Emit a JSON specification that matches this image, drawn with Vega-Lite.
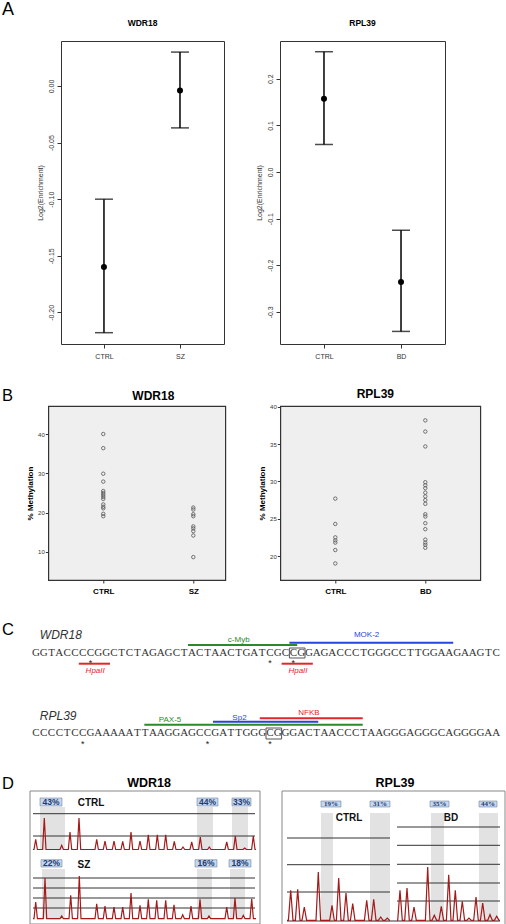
{
"$schema":"https://vega.github.io/schema/vega-lite/v6.json",
"background":"white",
"padding":{"left":2,"top":0,"right":0,"bottom":0},
"autosize":{"type":"pad"},
"spacing":26,
"config":{"font":"Liberation Sans","view":{"stroke":null},"title":{"color":"#000","font":"Liberation Sans"},"axis":{"domain":false,"grid":false,"labelColor":"#333","tickColor":"#333","titleColor":"#333"}},
"datasets":{
"none":[{"k":1}],
"enrW":[{"group":"CTRL","mean":-0.16,"lo":-0.218,"hi":-0.1},{"group":"SZ","mean":-0.004,"lo":-0.037,"hi":0.03}],
"enrR":[{"group":"CTRL","mean":0.157,"lo":0.059,"hi":0.258},{"group":"BD","mean":-0.236,"lo":-0.342,"hi":-0.125}],
"methW":[{"g":"CTRL","m":40},{"g":"CTRL","m":36.4},{"g":"CTRL","m":29.9},{"g":"CTRL","m":27.9},{"g":"CTRL","m":25.5},{"g":"CTRL","m":25.0},{"g":"CTRL","m":24.5},{"g":"CTRL","m":24.0},{"g":"CTRL","m":23.5},{"g":"CTRL","m":22.1},{"g":"CTRL","m":21.5},{"g":"CTRL","m":21.1},{"g":"CTRL","m":19.7},{"g":"CTRL","m":19.1},
{"g":"SZ","m":21.3},{"g":"SZ","m":20.8},{"g":"SZ","m":19.6},{"g":"SZ","m":19.1},{"g":"SZ","m":16.5},{"g":"SZ","m":16.0},{"g":"SZ","m":15.3},{"g":"SZ","m":14.2},{"g":"SZ","m":8.7}],
"methR":[{"g":"CTRL","m":27.7},{"g":"CTRL","m":24.3},{"g":"CTRL","m":22.5},{"g":"CTRL","m":22.1},{"g":"CTRL","m":21.8},{"g":"CTRL","m":20.8},{"g":"CTRL","m":19.0},
{"g":"BD","m":38.2},{"g":"BD","m":36.7},{"g":"BD","m":34.7},{"g":"BD","m":29.9},{"g":"BD","m":29.5},{"g":"BD","m":29.1},{"g":"BD","m":28.5},{"g":"BD","m":28.0},{"g":"BD","m":27.5},{"g":"BD","m":27.0},{"g":"BD","m":25.6},{"g":"BD","m":25.3},{"g":"BD","m":24.4},{"g":"BD","m":23.6},{"g":"BD","m":22.2},{"g":"BD","m":21.8},{"g":"BD","m":21.5},{"g":"BD","m":21.1}],
"bases":[
{"g":"W","i":0,"b":"G"},{"g":"W","i":1,"b":"G"},{"g":"W","i":2,"b":"T"},{"g":"W","i":3,"b":"A"},{"g":"W","i":4,"b":"C"},{"g":"W","i":5,"b":"C"},{"g":"W","i":6,"b":"C"},{"g":"W","i":7,"b":"C"},{"g":"W","i":8,"b":"G"},{"g":"W","i":9,"b":"G"},
{"g":"W","i":10,"b":"C"},{"g":"W","i":11,"b":"T"},{"g":"W","i":12,"b":"C"},{"g":"W","i":13,"b":"T"},{"g":"W","i":14,"b":"A"},{"g":"W","i":15,"b":"G"},{"g":"W","i":16,"b":"A"},{"g":"W","i":17,"b":"G"},{"g":"W","i":18,"b":"C"},{"g":"W","i":19,"b":"T"},
{"g":"W","i":20,"b":"A"},{"g":"W","i":21,"b":"C"},{"g":"W","i":22,"b":"T"},{"g":"W","i":23,"b":"A"},{"g":"W","i":24,"b":"A"},{"g":"W","i":25,"b":"C"},{"g":"W","i":26,"b":"T"},{"g":"W","i":27,"b":"G"},{"g":"W","i":28,"b":"A"},{"g":"W","i":29,"b":"T"},
{"g":"W","i":30,"b":"C"},{"g":"W","i":31,"b":"G"},{"g":"W","i":32,"b":"C"},{"g":"W","i":33,"b":"C"},{"g":"W","i":34,"b":"G"},{"g":"W","i":35,"b":"G"},{"g":"W","i":36,"b":"A"},{"g":"W","i":37,"b":"G"},{"g":"W","i":38,"b":"A"},{"g":"W","i":39,"b":"C"},
{"g":"W","i":40,"b":"C"},{"g":"W","i":41,"b":"C"},{"g":"W","i":42,"b":"T"},{"g":"W","i":43,"b":"G"},{"g":"W","i":44,"b":"G"},{"g":"W","i":45,"b":"G"},{"g":"W","i":46,"b":"C"},{"g":"W","i":47,"b":"C"},{"g":"W","i":48,"b":"T"},{"g":"W","i":49,"b":"T"},
{"g":"W","i":50,"b":"G"},{"g":"W","i":51,"b":"G"},{"g":"W","i":52,"b":"A"},{"g":"W","i":53,"b":"A"},{"g":"W","i":54,"b":"G"},{"g":"W","i":55,"b":"A"},{"g":"W","i":56,"b":"A"},{"g":"W","i":57,"b":"G"},{"g":"W","i":58,"b":"T"},{"g":"W","i":59,"b":"C"},
{"g":"R","i":0,"b":"C"},{"g":"R","i":1,"b":"C"},{"g":"R","i":2,"b":"C"},{"g":"R","i":3,"b":"C"},{"g":"R","i":4,"b":"T"},{"g":"R","i":5,"b":"C"},{"g":"R","i":6,"b":"C"},{"g":"R","i":7,"b":"G"},{"g":"R","i":8,"b":"A"},{"g":"R","i":9,"b":"A"},
{"g":"R","i":10,"b":"A"},{"g":"R","i":11,"b":"A"},{"g":"R","i":12,"b":"A"},{"g":"R","i":13,"b":"T"},{"g":"R","i":14,"b":"T"},{"g":"R","i":15,"b":"A"},{"g":"R","i":16,"b":"A"},{"g":"R","i":17,"b":"G"},{"g":"R","i":18,"b":"G"},{"g":"R","i":19,"b":"A"},
{"g":"R","i":20,"b":"G"},{"g":"R","i":21,"b":"C"},{"g":"R","i":22,"b":"C"},{"g":"R","i":23,"b":"G"},{"g":"R","i":24,"b":"A"},{"g":"R","i":25,"b":"T"},{"g":"R","i":26,"b":"T"},{"g":"R","i":27,"b":"G"},{"g":"R","i":28,"b":"G"},{"g":"R","i":29,"b":"G"},
{"g":"R","i":30,"b":"C"},{"g":"R","i":31,"b":"G"},{"g":"R","i":32,"b":"G"},{"g":"R","i":33,"b":"G"},{"g":"R","i":34,"b":"A"},{"g":"R","i":35,"b":"C"},{"g":"R","i":36,"b":"T"},{"g":"R","i":37,"b":"A"},{"g":"R","i":38,"b":"A"},{"g":"R","i":39,"b":"C"},
{"g":"R","i":40,"b":"C"},{"g":"R","i":41,"b":"C"},{"g":"R","i":42,"b":"T"},{"g":"R","i":43,"b":"A"},{"g":"R","i":44,"b":"A"},{"g":"R","i":45,"b":"G"},{"g":"R","i":46,"b":"G"},{"g":"R","i":47,"b":"G"},{"g":"R","i":48,"b":"A"},{"g":"R","i":49,"b":"G"},
{"g":"R","i":50,"b":"G"},{"g":"R","i":51,"b":"G"},{"g":"R","i":52,"b":"C"},{"g":"R","i":53,"b":"A"},{"g":"R","i":54,"b":"G"},{"g":"R","i":55,"b":"G"},{"g":"R","i":56,"b":"G"},{"g":"R","i":57,"b":"G"},{"g":"R","i":58,"b":"A"},{"g":"R","i":59,"b":"A"}],
"tfLines":[{"tf":"c-Myb","s":20,"e":34,"y":645},{"tf":"MOK-2","s":33,"e":54,"y":642.7},{"tf":"HpaII","s":6,"e":10,"y":663.7},{"tf":"HpaII","s":32,"e":36,"y":663.7},{"tf":"PAX-5","s":14.4,"e":42.4,"y":724.7},{"tf":"Sp2","s":23.2,"e":36.7,"y":721.7},{"tf":"NFKB","s":29.2,"e":42.4,"y":718.3}],
"tfLabels":[{"tf":"c-Myb","x":26.5,"y":640},{"tf":"MOK-2","x":42.9,"y":635},{"tf":"HpaII","x":8.1,"y":671},{"tf":"HpaII","x":34.1,"y":671},{"tf":"PAX-5","x":17.7,"y":719.5},{"tf":"Sp2","x":26.6,"y":718.3},{"tf":"NFKB","x":35.5,"y":712.5}],
"genes":[{"gene":"WDR18","x":1,"y":635},{"gene":"RPL39","x":1,"y":716}],
"cgBox":[{"s":33,"e":35,"y":648,"y2":658},{"s":30,"e":32,"y":728,"y2":739}],
"stars":[{"i":7,"y":665.7},{"i":30,"y":665.7},{"i":33,"y":665.7},{"i":6,"y":746.7},{"i":22,"y":746.7},{"i":30,"y":746.7}],
"shade":[{"x":40,"x2":65,"y":805,"y2":848},{"x":197,"x2":213,"y":805,"y2":848},{"x":232,"x2":248,"y":805,"y2":848},{"x":42,"x2":65,"y":867,"y2":917},{"x":197,"x2":212,"y":867,"y2":917},{"x":230,"x2":245,"y":867,"y2":917},{"x":321,"x2":333,"y":811,"y2":920},{"x":370,"x2":390,"y":811,"y2":920},{"x":431,"x2":444,"y":811,"y2":920},{"x":479,"x2":498,"y":811,"y2":920}],
"grid":[{"x":33,"x2":255,"y":811.7},{"x":33,"x2":255,"y":834},{"x":33,"x2":255,"y":876},{"x":33,"x2":255,"y":886},{"x":33,"x2":255,"y":896},{"x":33,"x2":255,"y":906},{"x":287,"x2":390,"y":836},{"x":287,"x2":390,"y":862.7},{"x":287,"x2":390,"y":890},{"x":397,"x2":500,"y":825},{"x":397,"x2":500,"y":843.3},{"x":397,"x2":500,"y":862.3},{"x":397,"x2":500,"y":881},{"x":397,"x2":500,"y":899},{"x":287,"x2":500,"y":919}],
"pct":[{"gene":"W","label":"43%","x":40,"x2":62,"y":796,"y2":804,"xm":51,"ym":800},{"gene":"W","label":"44%","x":197,"x2":218,"y":796,"y2":804,"xm":207.5,"ym":800},{"gene":"W","label":"33%","x":232,"x2":251,"y":796,"y2":804,"xm":241.5,"ym":800},{"gene":"W","label":"22%","x":41,"x2":62,"y":857.7,"y2":865,"xm":51.5,"ym":861.3},{"gene":"W","label":"16%","x":195,"x2":217,"y":857.7,"y2":865,"xm":206,"ym":861.3},{"gene":"W","label":"18%","x":229,"x2":251,"y":857.7,"y2":865,"xm":240,"ym":861.3},{"gene":"R","label":"19%","x":321,"x2":341,"y":799,"y2":805,"xm":331,"ym":802},{"gene":"R","label":"31%","x":370,"x2":390,"y":799,"y2":805,"xm":380,"ym":802},{"gene":"R","label":"35%","x":430,"x2":449,"y":799,"y2":805,"xm":439.5,"ym":802},{"gene":"R","label":"44%","x":479,"x2":497,"y":799,"y2":805,"xm":488,"ym":802}],
"subLabels":[{"label":"CTRL","x":91,"y":800.5},{"label":"SZ","x":84,"y":862.5},{"label":"CTRL","x":349,"y":816},{"label":"BD","x":451,"y":816}],
"boxes":[{"x":30,"x2":260,"y":789,"y2":922},{"x":282,"x2":505,"y":789,"y2":923}],
"titlesD":[{"label":"WDR18","x":149,"y":781},{"label":"RPL39","x":395,"y":781}],
"traces":[
{"t":"WC","x":33,"y":847.5},{"t":"WC","x":34,"y":847.5},{"t":"WC","x":35.7,"y":837.3},{"t":"WC","x":37.4,"y":847.5},{"t":"WC","x":42.6,"y":847.5},{"t":"WC","x":44.3,"y":816},{"t":"WC","x":46,"y":847.5},{"t":"WC","x":60,"y":847.5},{"t":"WC","x":61.7,"y":843.3},{"t":"WC","x":63.4,"y":847.5},{"t":"WC","x":68.3,"y":847.5},{"t":"WC","x":70,"y":830},{"t":"WC","x":71.7,"y":847.5},{"t":"WC","x":77.3,"y":847.5},{"t":"WC","x":79,"y":816},{"t":"WC","x":80.7,"y":847.5},{"t":"WC","x":95,"y":847.5},{"t":"WC","x":96.7,"y":837.3},{"t":"WC","x":98.4,"y":847.5},{"t":"WC","x":103.3,"y":847.5},{"t":"WC","x":105,"y":839},{"t":"WC","x":106.7,"y":847.5},{"t":"WC","x":112.3,"y":847.5},{"t":"WC","x":114,"y":839},{"t":"WC","x":115.7,"y":847.5},{"t":"WC","x":121,"y":847.5},{"t":"WC","x":122.7,"y":839.3},{"t":"WC","x":124.4,"y":847.5},{"t":"WC","x":129.3,"y":847.5},{"t":"WC","x":131,"y":830},{"t":"WC","x":132.7,"y":847.5},{"t":"WC","x":138.3,"y":847.5},{"t":"WC","x":140,"y":839},{"t":"WC","x":141.7,"y":847.5},{"t":"WC","x":146.6,"y":847.5},{"t":"WC","x":148.3,"y":832.7},{"t":"WC","x":150,"y":847.5},{"t":"WC","x":155.6,"y":847.5},{"t":"WC","x":157.3,"y":832.7},{"t":"WC","x":159,"y":847.5},{"t":"WC","x":164,"y":847.5},{"t":"WC","x":165.7,"y":832.7},{"t":"WC","x":167.4,"y":847.5},{"t":"WC","x":172.6,"y":847.5},{"t":"WC","x":174.3,"y":839.3},{"t":"WC","x":176,"y":847.5},{"t":"WC","x":181.3,"y":847.5},{"t":"WC","x":183,"y":845},{"t":"WC","x":184.7,"y":847.5},{"t":"WC","x":190,"y":847.5},{"t":"WC","x":191.7,"y":840},{"t":"WC","x":193.4,"y":847.5},{"t":"WC","x":198.6,"y":847.5},{"t":"WC","x":200.3,"y":835},{"t":"WC","x":202,"y":847.5},{"t":"WC","x":207.6,"y":847.5},{"t":"WC","x":209.3,"y":845},{"t":"WC","x":211,"y":847.5},{"t":"WC","x":225,"y":847.5},{"t":"WC","x":226.7,"y":840},{"t":"WC","x":228.4,"y":847.5},{"t":"WC","x":233.6,"y":847.5},{"t":"WC","x":235.3,"y":834},{"t":"WC","x":237,"y":847.5},{"t":"WC","x":243,"y":847.5},{"t":"WC","x":244.7,"y":846},{"t":"WC","x":246.4,"y":847.5},{"t":"WC","x":251.6,"y":847.5},{"t":"WC","x":253.3,"y":834},{"t":"WC","x":255,"y":847.5},{"t":"WC","x":256,"y":847.5},
{"t":"WS","x":33,"y":916.7},{"t":"WS","x":34,"y":916.7},{"t":"WS","x":35.7,"y":900},{"t":"WS","x":37.4,"y":916.7},{"t":"WS","x":43.3,"y":916.7},{"t":"WS","x":45,"y":876},{"t":"WS","x":46.7,"y":916.7},{"t":"WS","x":60,"y":916.7},{"t":"WS","x":61.7,"y":914},{"t":"WS","x":63.4,"y":916.7},{"t":"WS","x":69,"y":916.7},{"t":"WS","x":70.7,"y":893.3},{"t":"WS","x":72.4,"y":916.7},{"t":"WS","x":77.6,"y":916.7},{"t":"WS","x":79.3,"y":874},{"t":"WS","x":81,"y":916.7},{"t":"WS","x":95,"y":916.7},{"t":"WS","x":96.7,"y":901.7},{"t":"WS","x":98.4,"y":916.7},{"t":"WS","x":103.3,"y":916.7},{"t":"WS","x":105,"y":904},{"t":"WS","x":106.7,"y":916.7},{"t":"WS","x":112.3,"y":916.7},{"t":"WS","x":114,"y":905},{"t":"WS","x":115.7,"y":916.7},{"t":"WS","x":121,"y":916.7},{"t":"WS","x":122.7,"y":905},{"t":"WS","x":124.4,"y":916.7},{"t":"WS","x":129.3,"y":916.7},{"t":"WS","x":131,"y":891},{"t":"WS","x":132.7,"y":916.7},{"t":"WS","x":138.3,"y":916.7},{"t":"WS","x":140,"y":903.3},{"t":"WS","x":141.7,"y":916.7},{"t":"WS","x":146.6,"y":916.7},{"t":"WS","x":148.3,"y":897.3},{"t":"WS","x":150,"y":916.7},{"t":"WS","x":155,"y":916.7},{"t":"WS","x":156.7,"y":898.3},{"t":"WS","x":158.4,"y":916.7},{"t":"WS","x":164,"y":916.7},{"t":"WS","x":165.7,"y":898.3},{"t":"WS","x":167.4,"y":916.7},{"t":"WS","x":172.3,"y":916.7},{"t":"WS","x":174,"y":902.7},{"t":"WS","x":175.7,"y":916.7},{"t":"WS","x":181,"y":916.7},{"t":"WS","x":182.7,"y":912.7},{"t":"WS","x":184.4,"y":916.7},{"t":"WS","x":189.3,"y":916.7},{"t":"WS","x":191,"y":904},{"t":"WS","x":192.7,"y":916.7},{"t":"WS","x":198.3,"y":916.7},{"t":"WS","x":200,"y":897.3},{"t":"WS","x":201.7,"y":916.7},{"t":"WS","x":207.3,"y":916.7},{"t":"WS","x":209,"y":914},{"t":"WS","x":210.7,"y":916.7},{"t":"WS","x":225,"y":916.7},{"t":"WS","x":226.7,"y":905},{"t":"WS","x":228.4,"y":916.7},{"t":"WS","x":233.3,"y":916.7},{"t":"WS","x":235,"y":896},{"t":"WS","x":236.7,"y":916.7},{"t":"WS","x":241.6,"y":916.7},{"t":"WS","x":243.3,"y":913.3},{"t":"WS","x":245,"y":916.7},{"t":"WS","x":250,"y":916.7},{"t":"WS","x":251.7,"y":896.7},{"t":"WS","x":253.4,"y":916.7},{"t":"WS","x":256,"y":916.7},
{"t":"RC","x":287,"y":918.3},{"t":"RC","x":288.4,"y":918.3},{"t":"RC","x":290.7,"y":888.3},{"t":"RC","x":293,"y":918.3},{"t":"RC","x":295.4,"y":918.3},{"t":"RC","x":297.7,"y":887.3},{"t":"RC","x":300,"y":918.3},{"t":"RC","x":302,"y":918.3},{"t":"RC","x":304.3,"y":905},{"t":"RC","x":306.6,"y":918.3},{"t":"RC","x":316,"y":918.3},{"t":"RC","x":318.3,"y":870},{"t":"RC","x":320.6,"y":918.3},{"t":"RC","x":329.7,"y":918.3},{"t":"RC","x":332,"y":903.3},{"t":"RC","x":334.3,"y":918.3},{"t":"RC","x":336.4,"y":918.3},{"t":"RC","x":338.7,"y":876},{"t":"RC","x":341,"y":918.3},{"t":"RC","x":343.7,"y":918.3},{"t":"RC","x":346,"y":891},{"t":"RC","x":348.3,"y":918.3},{"t":"RC","x":350.4,"y":918.3},{"t":"RC","x":352.7,"y":901.7},{"t":"RC","x":355,"y":918.3},{"t":"RC","x":364.4,"y":918.3},{"t":"RC","x":366.7,"y":898.3},{"t":"RC","x":369,"y":918.3},{"t":"RC","x":371.4,"y":918.3},{"t":"RC","x":373.7,"y":897.3},{"t":"RC","x":376,"y":918.3},{"t":"RC","x":378.4,"y":918.3},{"t":"RC","x":380.7,"y":915},{"t":"RC","x":383,"y":918.3},{"t":"RC","x":385,"y":918.3},{"t":"RC","x":387.3,"y":916},{"t":"RC","x":389.6,"y":918.3},{"t":"RC","x":390,"y":918.3},
{"t":"RB","x":397,"y":918.3},{"t":"RB","x":397.7,"y":918.3},{"t":"RB","x":400,"y":888.3},{"t":"RB","x":402.3,"y":918.3},{"t":"RB","x":404.7,"y":918.3},{"t":"RB","x":407,"y":886},{"t":"RB","x":409.3,"y":918.3},{"t":"RB","x":411.7,"y":918.3},{"t":"RB","x":414,"y":905},{"t":"RB","x":416.3,"y":918.3},{"t":"RB","x":425.4,"y":918.3},{"t":"RB","x":427.7,"y":865},{"t":"RB","x":430,"y":918.3},{"t":"RB","x":432,"y":918.3},{"t":"RB","x":434.3,"y":913.3},{"t":"RB","x":436.6,"y":918.3},{"t":"RB","x":439,"y":918.3},{"t":"RB","x":441.3,"y":904.3},{"t":"RB","x":443.6,"y":918.3},{"t":"RB","x":446.4,"y":918.3},{"t":"RB","x":448.7,"y":872.7},{"t":"RB","x":451,"y":918.3},{"t":"RB","x":453,"y":918.3},{"t":"RB","x":455.3,"y":888.3},{"t":"RB","x":457.6,"y":918.3},{"t":"RB","x":460,"y":918.3},{"t":"RB","x":462.3,"y":899.3},{"t":"RB","x":464.6,"y":918.3},{"t":"RB","x":466.7,"y":918.3},{"t":"RB","x":469,"y":916},{"t":"RB","x":471.3,"y":918.3},{"t":"RB","x":473.7,"y":918.3},{"t":"RB","x":476,"y":895},{"t":"RB","x":478.3,"y":918.3},{"t":"RB","x":480.4,"y":918.3},{"t":"RB","x":482.7,"y":901},{"t":"RB","x":485,"y":918.3},{"t":"RB","x":487.7,"y":918.3},{"t":"RB","x":490,"y":912.7},{"t":"RB","x":492.3,"y":918.3},{"t":"RB","x":494.4,"y":918.3},{"t":"RB","x":496.7,"y":914.3},{"t":"RB","x":499,"y":918.3},{"t":"RB","x":500,"y":918.3}]
},
"vconcat":[
{
"title":{"text":"A","anchor":"start","frame":"bounds","baseline":"top","offset":0,"dx":0,"dy":0,"fontSize":18,"fontWeight":"normal"},
"spacing":29,
"hconcat":[
{"width":4,"height":10,"view":{"fill":"#ffffff","stroke":null},"data":{"name":"none"},"mark":{"type":"text","text":""}},
{"width":163,"height":303,"view":{"stroke":"#333","strokeWidth":1},
"title":{"text":"WDR18","frame":"group","anchor":"middle","baseline":"alphabetic","offset":6.1,"fontSize":8.5,"fontWeight":"bold"},
"data":{"name":"enrW"},
"encoding":{"x":{"field":"group","type":"nominal","sort":["CTRL","SZ"],"scale":{"type":"point","padding":0.572,"align":0.494},"axis":{"title":null,"labelAngle":0,"labelFontSize":7,"labelPadding":4,"tickSize":4}}},
"layer":[
{"mark":{"type":"rule","strokeWidth":1.5,"color":"#000"},"encoding":{"y":{"field":"lo","type":"quantitative","scale":{"domain":[-0.228,0.0398],"nice":false,"zero":false},"axis":{"title":"Log2(Enrichment)","titleFontSize":7,"titleFontWeight":"normal","titlePadding":4,"values":[0,-0.05,-0.1,-0.15,-0.2],"labelExpr":"replace(format(datum.value,'.2f'),'\u2212','-')","labelAngle":270,"labelAlign":"center","labelBaseline":"bottom","labelFontSize":7,"labelPadding":3,"tickSize":4,"labelOverlap":false}},"y2":{"field":"hi"}}},
{"mark":{"type":"tick","size":18,"thickness":1.5,"color":"#000"},"encoding":{"y":{"field":"lo","type":"quantitative","title":"Log2(Enrichment)"}}},
{"mark":{"type":"tick","size":18,"thickness":1.5,"color":"#000"},"encoding":{"y":{"field":"hi","type":"quantitative","title":"Log2(Enrichment)"}}},
{"mark":{"type":"point","filled":true,"size":36,"color":"#000","opacity":1},"encoding":{"y":{"field":"mean","type":"quantitative","title":"Log2(Enrichment)"}}}
]},
{"width":165,"height":303,"view":{"stroke":"#333","strokeWidth":1},
"title":{"text":"RPL39","frame":"group","anchor":"middle","baseline":"alphabetic","offset":6.1,"fontSize":8.5,"fontWeight":"bold"},
"data":{"name":"enrR"},
"encoding":{"x":{"field":"group","type":"nominal","sort":["CTRL","BD"],"scale":{"type":"point","padding":0.571,"align":0.5},"axis":{"title":null,"labelAngle":0,"labelFontSize":7,"labelPadding":4,"tickSize":4}}},
"layer":[
{"mark":{"type":"rule","strokeWidth":1.5,"color":"#000"},"encoding":{"y":{"field":"lo","type":"quantitative","scale":{"domain":[-0.369,0.281],"nice":false,"zero":false},"axis":{"title":"Log2(Enrichment)","titleFontSize":7,"titleFontWeight":"normal","titlePadding":4,"values":[0.2,0.1,0,-0.1,-0.2,-0.3],"labelExpr":"replace(format(datum.value,'.1f'),'\u2212','-')","labelAngle":270,"labelAlign":"center","labelBaseline":"bottom","labelFontSize":7,"labelPadding":3,"tickSize":4,"labelOverlap":false}},"y2":{"field":"hi"}}},
{"mark":{"type":"tick","size":18,"thickness":1.5,"color":"#000"},"encoding":{"y":{"field":"lo","type":"quantitative","title":"Log2(Enrichment)"}}},
{"mark":{"type":"tick","size":18,"thickness":1.5,"color":"#000"},"encoding":{"y":{"field":"hi","type":"quantitative","title":"Log2(Enrichment)"}}},
{"mark":{"type":"point","filled":true,"size":36,"color":"#000","opacity":1},"encoding":{"y":{"field":"mean","type":"quantitative","title":"Log2(Enrichment)"}}}
]}
]},
{
"title":{"text":"B","anchor":"start","frame":"bounds","baseline":"top","offset":0,"dx":0,"dy":17.5,"fontSize":16.5,"fontWeight":"normal"},
"spacing":31.3,
"hconcat":[
{"spacing":19.3,"hconcat":[
{"width":4,"height":10,"view":{"fill":"#ffffff","stroke":null},"data":{"name":"none"},"mark":{"type":"text","text":""}},
{"width":177,"height":174,"view":{"stroke":"#333","strokeWidth":1.2,"fill":"#efefef"},
"title":{"text":"WDR18","frame":"group","anchor":"middle","baseline":"alphabetic","offset":-5.6,"dx":16.5,"fontSize":12,"fontWeight":"bold"},
"data":{"name":"methW"},
"mark":{"type":"point","filled":false,"size":12,"strokeWidth":0.8,"color":"#555","opacity":1},
"encoding":{
"x":{"field":"g","type":"nominal","sort":["CTRL","SZ"],"scale":{"type":"point","padding":0.483,"align":0.632},"axis":{"title":null,"labelAngle":0,"labelFontSize":8,"labelFontWeight":"bold","labelColor":"#000","labelPadding":4,"tickSize":3}},
"y":{"field":"m","type":"quantitative","scale":{"domain":[2.88,47.12],"nice":false,"zero":false},"axis":{"title":"% Methylation","titleFontSize":8,"titleFontWeight":"bold","titleColor":"#000","titlePadding":3,"values":[10,20,30,40],"labelFontSize":6,"labelPadding":1,"tickSize":3}}}}
]},
{"width":200,"height":174,"view":{"stroke":"#333","strokeWidth":1.2,"fill":"#efefef"},
"title":{"text":"RPL39","frame":"group","anchor":"middle","baseline":"alphabetic","offset":-5.6,"dx":-5,"fontSize":12,"fontWeight":"bold"},
"data":{"name":"methR"},
"mark":{"type":"point","filled":false,"size":12,"strokeWidth":0.8,"color":"#555","opacity":1},
"encoding":{
"x":{"field":"g","type":"nominal","sort":["CTRL","BD"],"scale":{"type":"point","padding":0.611,"align":0.5},"axis":{"title":null,"labelAngle":0,"labelFontSize":8,"labelFontWeight":"bold","labelColor":"#000","labelPadding":4,"tickSize":3}},
"y":{"field":"m","type":"quantitative","scale":{"domain":[16.78,40.13],"nice":false,"zero":false},"axis":{"title":"% Methylation","titleFontSize":8,"titleFontWeight":"bold","titleColor":"#000","titlePadding":3,"values":[20,25,30,35,40],"labelFontSize":6,"labelPadding":1,"tickSize":3}}}}
]},
{
"title":{"text":"C","anchor":"start","frame":"group","baseline":"top","offset":0,"dx":0,"dy":16.5,"fontSize":16.5,"fontWeight":"normal"},
"width":504,"height":124,
"layer":[
{"data":{"name":"bases"},"transform":[{"filter":"datum.g=='W'"}],"mark":{"type":"text","font":"Liberation Serif","fontSize":11,"color":"#333","dx":3.9,"baseline":"middle","align":"center"},
"encoding":{"x":{"field":"i","type":"quantitative","scale":{"domain":[-3.846,60.769],"nice":false,"zero":false},"axis":null},"y":{"datum":653,"type":"quantitative","scale":{"domain":[622,746],"reverse":true,"nice":false,"zero":false},"axis":null},"text":{"field":"b"}}},
{"data":{"name":"bases"},"transform":[{"filter":"datum.g=='R'"}],"mark":{"type":"text","font":"Liberation Serif","fontSize":11,"color":"#333","dx":3.9,"baseline":"middle","align":"center"},
"encoding":{"x":{"field":"i","type":"quantitative"},"y":{"datum":733.3,"type":"quantitative"},"text":{"field":"b"}}},
{"data":{"name":"tfLines"},"mark":{"type":"rule","strokeWidth":2},
"encoding":{"x":{"field":"s","type":"quantitative"},"x2":{"field":"e"},"y":{"field":"y","type":"quantitative"},"color":{"field":"tf","type":"nominal","scale":{"domain":["c-Myb","MOK-2","HpaII","PAX-5","Sp2","NFKB"],"range":["#2a8a2a","#2546d8","#e02828","#2a8a2a","#2546d8","#e02828"]},"legend":null}}},
{"data":{"name":"tfLabels"},"transform":[{"filter":"datum.tf!='HpaII'"}],"mark":{"type":"text","fontSize":8,"baseline":"middle","align":"center"},
"encoding":{"x":{"field":"x","type":"quantitative"},"y":{"field":"y","type":"quantitative"},"text":{"field":"tf"},"color":{"field":"tf","type":"nominal","legend":null}}},
{"data":{"name":"tfLabels"},"transform":[{"filter":"datum.tf=='HpaII'"}],"mark":{"type":"text","fontSize":8,"fontStyle":"italic","baseline":"middle","align":"center"},
"encoding":{"x":{"field":"x","type":"quantitative"},"y":{"field":"y","type":"quantitative"},"text":{"field":"tf"},"color":{"field":"tf","type":"nominal","legend":null}}},
{"data":{"name":"genes"},"mark":{"type":"text","fontSize":12,"fontStyle":"italic","color":"#333","baseline":"middle","align":"left"},
"encoding":{"x":{"field":"x","type":"quantitative"},"y":{"field":"y","type":"quantitative"},"text":{"field":"gene"}}},
{"data":{"name":"cgBox"},"mark":{"type":"rect","fill":null,"fillOpacity":0,"stroke":"#555","strokeWidth":1},
"encoding":{"x":{"field":"s","type":"quantitative"},"x2":{"field":"e"},"y":{"field":"y","type":"quantitative"},"y2":{"field":"y2"}}},
{"data":{"name":"stars"},"mark":{"type":"text","fontSize":9,"color":"#222","dx":3.9,"baseline":"alphabetic","align":"center"},
"encoding":{"x":{"field":"i","type":"quantitative"},"y":{"field":"y","type":"quantitative"},"text":{"value":"*"}}}
]},
{
"title":{"text":"D","anchor":"start","frame":"group","baseline":"top","offset":0,"dx":0,"dy":15,"fontSize":16.5,"fontWeight":"normal"},
"width":504,"height":146,
"layer":[
{"data":{"name":"shade"},"mark":{"type":"rect","color":"#e2e2e2"},
"encoding":{"x":{"field":"x","type":"quantitative","scale":{"domain":[2,506],"nice":false,"zero":false},"axis":null},"x2":{"field":"x2"},"y":{"field":"y","type":"quantitative","scale":{"domain":[778,924],"reverse":true,"nice":false,"zero":false},"axis":null},"y2":{"field":"y2"}}},
{"data":{"name":"grid"},"mark":{"type":"rule","color":"#333","strokeWidth":1},
"encoding":{"x":{"field":"x","type":"quantitative"},"x2":{"field":"x2"},"y":{"field":"y","type":"quantitative"}}},
{"data":{"name":"traces"},"mark":{"type":"line","color":"#a31a1a","strokeWidth":1.2},
"encoding":{"x":{"field":"x","type":"quantitative"},"y":{"field":"y","type":"quantitative"},"detail":{"field":"t","type":"nominal"}}},
{"data":{"name":"pct"},"mark":{"type":"rect","color":"#c5d8f0","stroke":"#5a6f90","strokeWidth":0.5},
"encoding":{"x":{"field":"x","type":"quantitative"},"x2":{"field":"x2"},"y":{"field":"y","type":"quantitative"},"y2":{"field":"y2"}}},
{"data":{"name":"pct"},"transform":[{"filter":"datum.gene=='W'"}],"mark":{"type":"text","fontSize":8.5,"fontWeight":"bold","color":"#1f3a6e","baseline":"middle","align":"center"},
"encoding":{"x":{"field":"xm","type":"quantitative"},"y":{"field":"ym","type":"quantitative"},"text":{"field":"label"}}},
{"data":{"name":"pct"},"transform":[{"filter":"datum.gene=='R'"}],"mark":{"type":"text","fontSize":7,"fontWeight":"bold","font":"Liberation Serif","color":"#1f3a6e","baseline":"middle","align":"center"},
"encoding":{"x":{"field":"xm","type":"quantitative"},"y":{"field":"ym","type":"quantitative"},"text":{"field":"label"}}},
{"data":{"name":"subLabels"},"mark":{"type":"text","fontSize":10,"fontWeight":"bold","color":"#111","baseline":"middle","align":"center"},
"encoding":{"x":{"field":"x","type":"quantitative"},"y":{"field":"y","type":"quantitative"},"text":{"field":"label"}}},
{"data":{"name":"boxes"},"mark":{"type":"rect","fill":null,"fillOpacity":0,"stroke":"#888","strokeWidth":1},
"encoding":{"x":{"field":"x","type":"quantitative"},"x2":{"field":"x2"},"y":{"field":"y","type":"quantitative"},"y2":{"field":"y2"}}},
{"data":{"name":"titlesD"},"mark":{"type":"text","fontSize":12.5,"fontWeight":"bold","color":"#000","baseline":"middle","align":"center"},
"encoding":{"x":{"field":"x","type":"quantitative"},"y":{"field":"y","type":"quantitative"},"text":{"field":"label"}}}
]}
]
}
